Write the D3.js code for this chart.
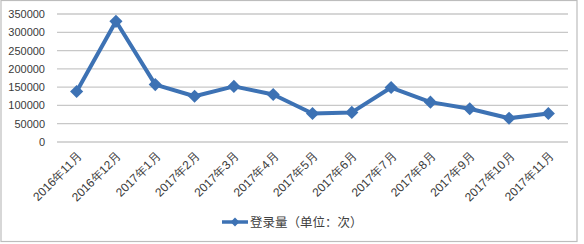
<!DOCTYPE html>
<html lang="zh">
<head>
<meta charset="utf-8">
<style>
  body { margin: 0; background: #fff; }
  svg { font-family: "Noto Sans CJK SC", "DejaVu Sans", sans-serif; }
  .grid line { stroke: #c8c8c8; stroke-width: 1.3px; }
  .tick text { fill: #3a3a3a; }
</style>
</head>
<body>
<svg width="584" height="244"></svg>
<script src="https://d3js.org/d3.v7.min.js"></script>
<script>
// data
var months = ["2016年11月", "2016年12月", "2017年1月", "2017年2月", "2017年3月", "2017年4月",
  "2017年5月", "2017年6月", "2017年7月", "2017年8月", "2017年9月", "2017年10月", "2017年11月"];
var logins = [138000, 330000, 157000, 125000, 152000, 130000, 78000, 81000, 149000, 109000, 91000, 65000, 78000];
var yTicks = [0, 50000, 100000, 150000, 200000, 250000, 300000, 350000];
var seriesName = "登录量（单位：次）";

var svg = d3.select("svg");
var blue = "#3d72b4";

// outer frame
svg.append("rect")
    .attr("x", 1).attr("y", 0.5).attr("width", 576).attr("height", 241)
    .attr("fill", "#fff").attr("stroke", "#bdbdbd").attr("stroke-width", 1.2);

var x = d3.scaleBand().domain(months).range([57, 568]);
var y = d3.scaleLinear().domain([0, 350000]).range([142, 14]);

// gridlines
svg.append("g").attr("class", "grid")
  .selectAll("line").data(yTicks).join("line")
    .attr("x1", 57).attr("x2", 568)
    .attr("y1", d => y(d)).attr("y2", d => y(d));

// y axis labels
var yAxis = svg.append("g")
    .attr("transform", "translate(57,0)")
    .call(d3.axisLeft(y).tickValues(yTicks).tickSize(0).tickPadding(12).tickFormat(d3.format("d")));
yAxis.select(".domain").remove();
yAxis.selectAll("text").attr("font-size", 11).attr("font-family", "Liberation Sans, Arial, sans-serif");

// x axis labels
var xAxis = svg.append("g")
    .attr("transform", "translate(0,142)")
    .call(d3.axisBottom(x).tickSize(0).tickPadding(0));
xAxis.select(".domain").remove();
xAxis.selectAll("text")
    .attr("font-size", 12)
    .attr("font-weight", 500)
    .attr("text-anchor", "end")
    .attr("dy", 0)
    .attr("transform", "translate(6,15) rotate(-45)");

var cx = d => x(d) + x.bandwidth() / 2;

// line
var line = d3.line()
    .x((d, i) => cx(months[i]))
    .y(d => y(d));

svg.append("path")
    .datum(logins)
    .attr("fill", "none")
    .attr("stroke", blue)
    .attr("stroke-width", 4)
    .attr("stroke-linejoin", "round")
    .attr("d", line);

var diamond = d3.symbol().type(d3.symbolDiamond2).size(110);
svg.append("g").selectAll("path").data(logins).join("path")
    .attr("d", diamond)
    .attr("fill", blue)
    .attr("transform", (d, i) => "translate(" + cx(months[i]) + "," + y(d) + ")");

// legend
var lg = svg.append("g").attr("transform", "translate(222,222)");
lg.append("line").attr("x1", 0).attr("x2", 26)
    .attr("stroke", blue).attr("stroke-width", 3.5);
lg.append("path").attr("d", d3.symbol().type(d3.symbolDiamond2).size(50))
    .attr("transform", "translate(13,0)").attr("fill", blue);
lg.append("text").attr("x", 28).attr("y", 4.5)
    .attr("font-size", 12.5).attr("fill", "#404040")
    .text(seriesName);
</script>
</body>
</html>
